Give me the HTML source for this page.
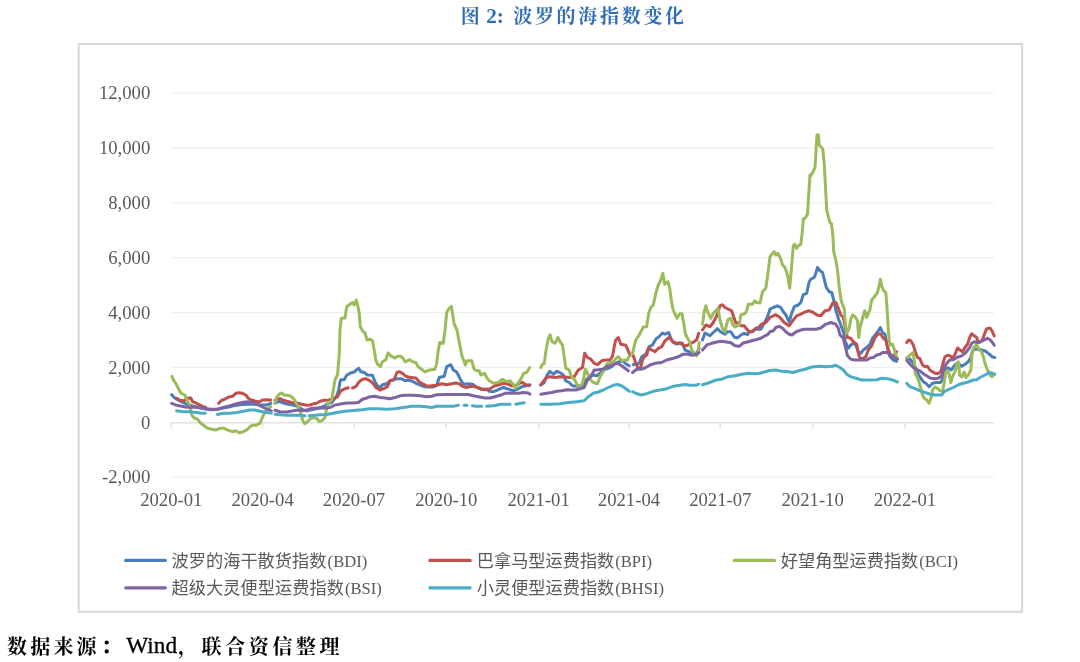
<!DOCTYPE html>
<html lang="zh">
<head>
<meta charset="utf-8">
<title>图 2：波罗的海指数变化</title>
<style>
html,body{margin:0;padding:0;background:#fff;}
body{width:1080px;height:662px;overflow:hidden;position:relative;font-family:"Liberation Serif",serif;}
</style>
</head>
<body>
<svg width="1080" height="662" viewBox="0 0 1080 662" style="position:absolute;left:0;top:0;display:block;will-change:transform">
<rect x="0" y="0" width="1080" height="662" fill="#ffffff"/>
<rect x="78.7" y="44.0" width="943.4" height="567.8" fill="#ffffff" stroke="#d9d9d9" stroke-width="2.1"/>
<line x1="171.3" y1="93.08" x2="994.2" y2="93.08" stroke="#f0f0f0" stroke-width="1.2"/>
<line x1="171.3" y1="147.95" x2="994.2" y2="147.95" stroke="#f0f0f0" stroke-width="1.2"/>
<line x1="171.3" y1="202.82" x2="994.2" y2="202.82" stroke="#f0f0f0" stroke-width="1.2"/>
<line x1="171.3" y1="257.69" x2="994.2" y2="257.69" stroke="#f0f0f0" stroke-width="1.2"/>
<line x1="171.3" y1="312.56" x2="994.2" y2="312.56" stroke="#f0f0f0" stroke-width="1.2"/>
<line x1="171.3" y1="367.43" x2="994.2" y2="367.43" stroke="#f0f0f0" stroke-width="1.2"/>
<line x1="171.3" y1="477.17" x2="994.2" y2="477.17" stroke="#f0f0f0" stroke-width="1.2"/>
<line x1="170.3" y1="422.70" x2="994.2" y2="422.70" stroke="#e2e2e2" stroke-width="1.6"/>
<line x1="171.30" y1="422.70" x2="171.30" y2="428.50" stroke="#e2e2e2" stroke-width="1.6"/>
<line x1="262.64" y1="422.70" x2="262.64" y2="428.50" stroke="#e2e2e2" stroke-width="1.6"/>
<line x1="353.97" y1="422.70" x2="353.97" y2="428.50" stroke="#e2e2e2" stroke-width="1.6"/>
<line x1="446.31" y1="422.70" x2="446.31" y2="428.50" stroke="#e2e2e2" stroke-width="1.6"/>
<line x1="538.65" y1="422.70" x2="538.65" y2="428.50" stroke="#e2e2e2" stroke-width="1.6"/>
<line x1="628.98" y1="422.70" x2="628.98" y2="428.50" stroke="#e2e2e2" stroke-width="1.6"/>
<line x1="720.32" y1="422.70" x2="720.32" y2="428.50" stroke="#e2e2e2" stroke-width="1.6"/>
<line x1="812.66" y1="422.70" x2="812.66" y2="428.50" stroke="#e2e2e2" stroke-width="1.6"/>
<line x1="905.00" y1="422.70" x2="905.00" y2="428.50" stroke="#e2e2e2" stroke-width="1.6"/>
<g font-family="'Liberation Serif', serif" font-size="18.7" fill="#595959">
<text x="150.3" y="99.38" text-anchor="end">12,000</text>
<text x="150.3" y="154.25" text-anchor="end">10,000</text>
<text x="150.3" y="209.12" text-anchor="end">8,000</text>
<text x="150.3" y="263.99" text-anchor="end">6,000</text>
<text x="150.3" y="318.86" text-anchor="end">4,000</text>
<text x="150.3" y="373.73" text-anchor="end">2,000</text>
<text x="150.3" y="428.60" text-anchor="end">0</text>
<text x="150.3" y="483.47" text-anchor="end">-2,000</text>
<text x="171.30" y="506.1" text-anchor="middle">2020-01</text>
<text x="262.64" y="506.1" text-anchor="middle">2020-04</text>
<text x="353.97" y="506.1" text-anchor="middle">2020-07</text>
<text x="446.31" y="506.1" text-anchor="middle">2020-10</text>
<text x="538.65" y="506.1" text-anchor="middle">2021-01</text>
<text x="628.98" y="506.1" text-anchor="middle">2021-04</text>
<text x="720.32" y="506.1" text-anchor="middle">2021-07</text>
<text x="812.66" y="506.1" text-anchor="middle">2021-10</text>
<text x="905.00" y="506.1" text-anchor="middle">2022-01</text>
</g>
<g fill="none" stroke-width="3" stroke-linejoin="round" stroke-linecap="round">
<path d="M171.7,394.7 174.2,397.5 176.7,399.2 181.7,402 186.7,404.2 193.3,406.3 200,408 206.7,409.2 211.7,409.7 217.5,409.2 223.3,408 230,406.7 233.3,405.8 240,404.7 246.7,404.2 253.3,404.2 260,405 266.7,405 270.8,403.3M275,403 279.2,401.3 283.3,403 288.3,404.2 293.3,405 298.3,406.7 303.3,410 306.7,410.8 311.7,409.7 318.3,408.3 325,405.8 326.7,404.2 331.7,402.5 336.7,395.8 338.7,390 340,381.7 340.8,379.7 344.2,379.7 346.7,375.3 350,373.3 354.2,372 357.5,369.2 358.7,368.3 360.8,371.7 364.2,372.5 367.5,375 372.5,375.3 375,381.7 377.5,385.8 380,387.5 382.5,384.7 386.7,383.7 390,380.8 393.3,380 396.7,378.7 401.7,378.7 405,380.8 408.3,380 412.5,381.3 416.7,383.7 420.8,385.3 424.2,386.7 428.3,387 433.3,387 436.7,385.3 439.2,377.5 444.2,376.3 446.7,366.7 450.8,364.7 453.3,370 456.7,372 460,378.7 463.3,384.2 467.5,383.7 472.5,384.2 476.7,387.5 481.7,388.8 486.7,389.2 489.2,391.3 493.3,391.7 496.7,390.3 499.2,389.2 503.3,387.5 508.3,389.2 513.3,390.8 517.5,389.2 521.7,386.7 525.8,385.8 530,384.7M540.8,385 544.2,382.5 546.7,375.8 549.7,371.3 553.3,374.2 557,371.3 560.8,373 563.3,375 565.8,380.8 569.2,382.5 572.5,385.8 576.7,386.3 580,385.8 583.3,385 586.7,379.2 590,375.8 593.3,375 596.7,375.8 600,373.3 603.3,370 608.3,368.3 611.7,366.7 615,363.7 618.3,362 622.5,360.8 625.8,363.7 629.2,365.8M633.3,364.7 635,364.2 639.2,363.3 641.7,356.7 645.8,354.2 649.2,346.7 652.5,345 655.8,339.2 660,335.8 662.5,333 665,334.2 668.7,332.5 670.8,338.3 673.3,342.5 676.7,344.2 680,343 682.5,343.3 685,350 688.3,351.3 692.5,354.2 696.7,353 699.2,348.3M702.5,340 705,333 710,335.8 713.3,332.5 717.5,328.7 720.8,332 725,334.2 727.5,331.7 730.8,331.7 734.2,337 737.5,338 740.8,335 744.2,333.3 747.5,334.7 749.2,331.7 751.7,331.3 755.8,329.2 756.7,329.2 760.8,329.2 764.2,323.3 767.5,316.7 770,309.2 773.3,307.5 777.5,305.8 780.8,307.5 783.3,311.7 785.8,315 789.2,321.7 791.7,313.3 794.2,306.7 798.3,305 800.8,302.5 803.3,294.7 806.7,293.3 809.2,281.7 810.8,279.2 814.2,277.5 815.8,273.3 817.5,267.5 820,270.8 822.5,272.5 824.2,279.2 826.3,287.5 829.2,291.7 831.7,292.5 833.3,298.3 835.8,310 838.3,318.3 840.8,325 843.3,331.7 845.3,341.7 848.3,348.3 850.8,345 853.3,343.3 855.8,345 858.3,351.7 860.8,353.3 863.3,350 866.7,347.5 870,344.2 872.5,338.3 875.8,334.2 878.3,330.8 880.3,327.5 882.5,332.5 885,334.2 886.7,343.3 888.3,351.7 890,356.7 893.3,360 896.7,361.3M906.7,358 910,359.2 913.3,363.3 915.8,368.3 918.3,374.2 920.8,378.3 923.3,381.7 925.8,383.3 929.2,386.7 932.5,383.3 936.7,382.5 940.8,382.5 944.2,375 945.8,368.3 948.3,368 951.3,370 954.2,365.8 956.7,363.3 959.2,364.2 961.7,366.3 965,364.2 968.3,361.7 970.8,357.5 972.5,350.8 975,349.2 978.3,349.2 981.7,350 985.8,351.3 989.2,354.2 992.5,357 994.7,357.5" stroke="#4a7ebb"/>
<path d="M176.7,398.3 180,400.3 184.2,400.8 187.5,398.3 190.8,398 192.5,401.7 195.8,403 199.2,404.7 202.5,406.3 205.8,407.5M218.7,403.3 221.7,400.3 224.2,399.5 226.7,398 230,396.7 232.5,396.3 235.8,393.3 239.2,392.8 242.5,393.3 245.8,395 248.3,398.3 251.7,400 255.8,401.3 259.2,402 262.5,400 266.7,399.7 270.8,400M275,400.3 276.7,399.2 280,398.7 283.3,400.3 286.7,401.3 291.7,402.5 296.7,403 301.7,404.2 306.7,405.3 310,405 313.3,403.8 316.7,403.3 320,401.3 324.2,400.3 328.3,400 333.3,399.2 337.5,396.7 340.8,390.8 345,388.7 348.3,387.8M352.5,388 355.8,386.7 359.2,381.7 362.5,379.2 365.8,378.7 370,380.8 373.3,383.7 375.8,387.5 380,390 384.2,388.3 387.5,386.7 390,380.8 394.2,379.2 397,372.5 399.2,371.7 402.5,373.3 405,375.8 408.3,377 411.7,377.5 415.8,378 419.2,381.7 423.3,384.2 427.5,386.3 431.7,385.8 436.7,385.3 441.7,383.7 446.7,384.7 451.7,383.7 455.8,383 459.2,383.7 462.5,386.3 466.7,387.5 470.8,386.3 475.8,386.7 480.8,389.2 485,389.7 490,388.7 495,385.8 500.8,384.2 504.2,383 508.3,384.2 511.7,385.8 515,385.8 518.3,384.2 521.7,382 525.8,384.7 529.2,385.8M540.8,384.7 544.2,380.3 546.7,377.5 550,376.7 555,377.5 560,376.7 565,377 570,377.5 574.2,376.7 578.3,370 582.5,367.5 584.7,353.3 587.5,357.5 590.8,359.2 594.2,363.3 597.5,364.7 601.7,360.8 605.8,360 610,360 612.5,356.3 614.2,346.7 615.8,340 618.3,337.5 620.8,344.2 625.8,345.3 628.3,350.8 630,355.8M633.3,355.8 635.8,363.3 638.3,368.3 640.8,367.5 642.5,360 644.2,356.7 646.7,355 648.7,348 651.7,350 655,351.7 658.3,348.3 661.7,346.7 665,340.8 669.2,337.5 672.5,341.3 676.7,343.3 680,343 683.3,345.3 686.7,345.8 690.8,343.3 694.2,341.7 696.7,339.7 698.7,333.3M702.5,330 705.8,325 710,326.7 713.3,322.5 716.7,315.8 720,305.8 722.5,304.7 725,307.5 728.3,309.2 731.7,310.8 733.3,315.8 735.8,323 738.3,323 740.8,325.8 744.2,325.8 747.5,330 750,332 752.5,331.7 755.8,328.3 758.3,327.5 761.7,324.2 765.8,322.5 770,317.5 775.8,314.7 780,317.5 784.2,322.5 789.2,325.8 793.3,320 796.7,315.8 800.8,314.2 805,312 809.2,310.8 813.3,312.5 817.5,315.3 820.8,315.8 825,310.8 829.2,310 832.5,303.3 835.8,302.5 838.3,308.3 840.8,315 843.3,317.5 845.8,330 847.5,337.5 850.8,338.3 853.3,341.7 856.7,344.2 858.3,353.3 860,358.7 863.3,358.3 865.8,356.7 868.3,350 871.7,345.8 875,337.5 878.3,333.7 880.8,334.2 883.3,338.3 885.8,340 887.5,346.7 890,354.2 892.5,356.7 895,354.2 896.7,351.7M906.7,342.5 908.7,340 910.8,340.8 913.3,345 915.3,351.7 917.5,357.5 920,358.7 922.5,365 925,366.7 927.5,366.3 930,370.3 932.5,371.7 935,373.3 937.5,373.7 940.8,371.7 943,363.3 945,356.7 947.5,355.3 950,355.8 952.5,358.3 955,354.2 957.5,348 960,350 962.5,351.7 965,347.5 967.5,344.2 970,336.7 971.7,333.7 974.2,335.8 976.7,337.5 978.3,342.5 980,342 982.5,339.7 984.7,333.3 986.7,328.7 990,328 992,330.8 994.2,335.8" stroke="#c0504d"/>
<path d="M172,376.3 173.3,380 175.8,383.3 178.3,388.3 180.8,393 184.7,395 186.7,399.2 189.2,404.2 190.8,410 191.7,415 194.2,418 197.5,419.2 200,422.5 204.2,425.8 207.5,428.3 211.7,429.2 215.8,430 220,428.3 224.2,428.3 228.3,430.3 232.5,431.7 235.8,430.8 239.2,432.8 243.3,431.7 246.7,430 250,426.7 253.3,425 255.8,425.3 260,423.3 262,418.3 264.2,413.3 266.7,410 269.2,408 270.8,406.7M275,403.3 276.7,397.5 279.2,394.2 281.7,393 284.2,395 286.7,395.3 290,395.8 293.3,398.3 295.8,402.5 298.3,406.7 300.8,413.3 302.5,420 304.7,423.7 307.5,421.7 310.8,418.3 314.2,417.5 317.5,419.2 319.2,421.7 322.5,420.3 325,417.5 326.7,408.3 328.3,403.3 331.7,400 333.3,390 335,380 337.5,375 339.2,355 340,330 341.3,318.3 345,318 346.7,306.7 350,304.2 352.5,302.5 354.2,305 356.3,300 358,306.7 359.2,313.3 360.3,326.7 362.5,330.8 365,333 367,340 370,339.2 372.5,340.8 374.2,350 375.8,360 377.5,364.2 380.3,366.7 382.5,361.7 385.8,359.7 388,353 390.8,355.8 395,358 397.5,356.3 400.8,356.3 403.3,358.7 405.3,362 409.7,359.7 412.5,361.7 415.8,362.5 418.3,367 421.7,369.2 424.7,372 428.3,370.3 435,369.2 436.7,363.3 438.3,350 439.7,342.5 443.3,343.3 445,330 446.7,312.5 449.2,308.3 451.3,306.3 452.5,313.3 454.2,324.2 457,330 459.2,341.7 461.7,355 464.2,361.7 465.3,365 467,360.8 471.7,360.8 474.2,369.2 476.7,370.8 479.2,370.8 480.8,375 484.7,373.3 486.7,377.5 489.2,380.8 493.3,383.3 496.7,382.8 498.3,382.5 502.5,379.2 506.7,381.7 510,380.8 513.3,384.2 515.3,388.3 517.5,384.2 520.8,379.2 523.7,373.3 526.7,372.5 529.7,367.5M540.8,367.5 542.5,364.2 544.2,363.7 545.8,351.7 548.3,338.3 550,334.7 552,341.7 555,343.3 558,337.5 560,341.7 562.5,345 564.2,356.7 565.8,368.3 569.2,370 571.3,376.7 574.2,379.2 577.5,385 580,386.7 582.5,383.3 584.2,375 585.3,369.2 587.5,373.3 590,379.2 593.3,382.5 597.5,383.7 600,376.7 603.3,371.7 606.7,364.2 610,362.5 613.3,361.7 615.8,358.7 618.3,356.7 621.7,360.8 625,360 627.5,360 629.2,355.8M632.5,353.3 635.8,340 639.2,335 641.7,330 643.3,327 646.7,326.7 648.7,313.3 650.8,307.5 653.3,305 655.8,293.3 658.3,285 660.8,280 662.8,273.3 664.7,284.2 668,281.7 669.7,288.3 671.3,300 673,309.2 675,314.2 677,318.3 679.7,313.7 682,313.7 683.7,323.3 685.3,333.3 687.5,338.3 689.7,341.7 691.7,350 694.2,353.3 696.7,355.8 698.3,350 699.2,342.5M702.5,324.2 704.2,311.7 705.8,305.8 707.5,311.7 710.8,318.3 713.3,313.3 715.8,310.8 718,308.3 720,320 722.5,328.3 725,331.7 726.7,324.2 728.3,319.2 730.8,318.3 732.5,324.2 735,327 739.2,325 740.8,315 745,313.3 746.7,310.8 748.3,304.2 752.5,304.2 754.7,300.8 756.7,302.5 760,303 762.5,291.7 765.8,288.3 767.5,276.7 770,256.7 772.5,253.3 774.2,251.7 775.8,255 778,253.3 780.8,259.2 782.5,265 785,267.5 787.5,275 789.7,288 791.3,270 793.3,245.8 794.7,244.2 796.7,248.3 798.3,245.8 800.8,244.2 802.5,230 803.3,219.2 805,218.3 807.5,214.2 808.7,195 810,175 810.8,175.8 813,171.7 815,167.5 816.3,146.7 817,135 818.3,134.7 819.2,145 821.7,147.5 822.8,149.2 824.2,163.3 825.3,183.3 826.7,210 828.3,216.7 830,222.5 831.3,223.3 832.2,230 833,236.7 833.7,251.7 835.8,260 837.5,270 839.2,286.7 840.8,298.3 842.5,305 844.2,308.3 845,320 846.7,333.3 849.2,328.3 850.8,319.2 852.5,315 855,316.7 857.5,320.8 858.7,337.5 860,327.5 862.5,318.3 864.7,310.8 866.7,317.5 868.3,313.3 870,309.2 871.7,300 874.2,297 877.5,292.5 879.2,285 880.3,279.2 882,286.7 883.7,290.8 885.8,292.5 886.7,303.3 887.5,316.7 888.3,330 889.2,340 890,345 892.5,344.2 894.2,349.2 895.8,355 897.5,359.2M906.7,358.3 910,355 913,352.5 914.2,360 915.3,373.3 917,376.7 919.2,382.5 920.8,388.3 922.5,395 924.2,398.3 926.7,400 929.2,403.3 931.3,396.7 932.5,390 935,387 937.5,388.3 940,390.8 942.5,391.3 944.2,383.3 945.8,371.7 947.5,370.8 949.2,374.2 950.8,382.5 952.5,376.7 955,371.7 957,364.2 958.3,361.7 959.7,375 961.7,377 964.2,372 965.8,377.5 968.3,375 970.8,370 972,355 973.3,348.3 975.8,345.3 977.5,345.8 979.2,350 981.7,351.7 983.3,356.7 985,363.3 987.5,370 990,375 992,376.7 994.2,374.2" stroke="#9bbb59"/>
<path d="M171.7,403.3 176.7,405.3 181.7,406.3 186.7,407.2 193.3,407 200,407.5 206.7,408.7 211.7,409.2 217.5,409.2 223.3,407.5 230,405.8 236.7,403.8 243.3,402.2 248.3,401.7 253.3,402.5 258.3,405 263.3,407.5 268.3,409.7 271.3,410.8M275,410.3 280,411.7 286.7,412 293.3,410.8 298.3,410 303.3,410.8 306.7,410 311.7,408.3 318.3,408 325,408 330,407.5 335,405 336.7,404.7 341.7,403.7 346.7,403 353.3,403 358.3,402.5 362.5,399.2 366.7,398 370,396.7 375,396.3 380,397.5 385,398 390,398.7 395,397.5 400,395.8 405,395.3 413.3,395.3 420,395.8 426.7,396.7 431.7,396.3 436.7,394.7 445,394.5 453.3,394.5 461.7,394.5 468.3,394.5 473.3,395.8 478.3,396.7 485,398 490,398 495,396.7 500,395.3 505,393.3 513.3,393.3 518.3,393.3 523.3,392.5 528.3,393 530,394.2M540.8,394.2 546.7,393.3 551.7,392.5 556.7,391.3 561.7,390.8 566.7,389.7 571.7,390 575.8,390 580,388.7 584.2,387.5 587.5,380 590.8,376.7 594.2,370 598.3,369.7 602.5,369.2 606.7,366.7 611.7,365.3 615,363.7 618.3,363.7 621.7,365.8 625,368.3 628.3,370.8M632.5,372.5 636.7,369.3 641.7,369.2 645.8,367.5 650,365 655,363.3 661.7,362.5 666.7,360 673.3,358.3 678.3,356.7 683.3,354.2 687.5,354.2 692.5,355.3 696.7,354.2 699.2,352.5M702.5,350 706.7,345 711.7,343.3 716.7,342 721.7,341.3 726.7,342 730.8,342.8 735,345.8 739.2,346.3 743.3,343 748.3,341.7 753.3,340.3 755.8,339.7 760.8,338.3 765,335.8 767.5,334.7 770,331.7 773.3,330.8 775.8,327.5 779.2,326.3 782.5,328.3 785.8,331.7 789.2,334.2 792,335 795.8,332 800,330.3 804.2,329.2 810,329.2 815.8,329.2 820.8,328 825,324.7 830.8,322.5 835.8,324.2 838.3,328.3 840,335 843.3,338.3 845.8,348.3 847.5,355.8 850.8,359.2 855,360 860,360 866.7,360 870,358 873.3,357.5 876.7,355 880,354.2 882.5,352.5 886.7,352.5 890,354.2 893.3,356.7 897.5,359.2M906.7,360.3 910,364.2 913.3,367.5 916.7,369.7 920,370.8 923.3,373.7 926.7,375.8 930,378 934.2,378.7 938.3,378.3 941.7,375.8 944.2,367.5 946.7,363.3 950,359.7 953.3,359.7 956.7,357.5 961.7,355.8 965.8,352.5 969.2,348.3 971.7,343.3 974.2,341.7 977.5,342.5 980.8,341.7 984.2,340 987.5,338.3 990,339.7 992.5,342.5 994.2,345.3" stroke="#8064a2"/>
<path d="M176.7,410.8 183.3,411.7 190,411.7 196.7,412.5 201.7,413.3 205.3,413.3M217.5,414.5 223.3,413.3 230,413.3 236.7,412.5 243.3,411.3 250,410 255,410 260,411.3 266.7,412.5 271.3,413M275,414.2 280,414.7 286.7,415.3 293.3,415.3 300,415.3 305,415.8M309.2,415.8 315,415.3 320,414.7 326.7,414.5 333.3,413.3 336.7,412.5 345,411.3 353.3,410.5 361.7,409.7 370,408.7 378.3,408.7 386.7,409.2 395,408.8 403.3,407.5 411.7,406.2 420,406.2 426.7,406.7 431.7,407.5 436.7,406.3 445,406.2 453.3,406.2 458.3,405.3M464.2,405.3 467,405.3M472.5,405.8 475.8,406.2 481.7,406.2M486.7,406.2 493.3,405.8 496.7,405.2 497.5,404.7 501.7,404.2 510,404.2M515.8,404.2 520.8,403.3 524.2,402.8M540.8,404.2 550,404.2 560,403.7 568.3,402.5 576.7,401.7 584.2,400.8 588.3,396.7 593.3,393.3 598.3,392 603.3,390 608.3,387.5 613.3,385.3 617.5,384.5 621.7,385.8 625.8,388.7 629.2,391.3M632.5,391.7 635,393 640.8,395 646.7,393.7 653.3,391.3 660,390 666.7,388.7 673.3,386.3 680,385.3 685,384.5 690,385.3 695.8,385.3 698.7,384.2M702.5,384.7 708.3,383 715,380.3 721.7,379.2 728.3,376.7 735,375.8 741.7,374.2 748.3,373.3 755,373.7 760,373.3 765,371.7 770,370.5 775.8,370 781.7,371.2 788.3,371.7 793.3,372.5 798.3,370.8 805,369.2 811.7,367 820,366.3 826.7,366.7 832.5,366.3 835.8,365.3 840,367.5 843.3,370 846.7,374.2 850,376.3 855,378 861.7,380 868.3,380 876.7,379.7 881.7,378.3 887.5,378.7 891.7,379.7 897.5,382M906.7,383.3 910,386.7 915,388.7 920,390.8 925,392.5 930,394.2 935,395 941.7,395 944.2,391.7 948.3,389.7 953.3,387.5 958.3,384.7 963.3,383.3 968.3,382 973.3,380 976.7,379.7 980,377.5 985,375 989.2,372.5 992.5,373.3 994.7,374.2" stroke="#4bacc6"/>
</g>
<line x1="125.7" y1="560.4" x2="165.3" y2="560.4" stroke="#4a7ebb" stroke-width="3.2" stroke-linecap="round"/>
<line x1="429.9" y1="560.4" x2="470.1" y2="560.4" stroke="#c0504d" stroke-width="3.2" stroke-linecap="round"/>
<line x1="734.3" y1="560.4" x2="774.5" y2="560.4" stroke="#9bbb59" stroke-width="3.2" stroke-linecap="round"/>
<line x1="125.7" y1="587.8" x2="165.3" y2="587.8" stroke="#8064a2" stroke-width="3.2" stroke-linecap="round"/>
<line x1="429.9" y1="587.8" x2="470.1" y2="587.8" stroke="#4bacc6" stroke-width="3.2" stroke-linecap="round"/>
<g font-family="'Liberation Sans', 'Noto Sans CJK SC', sans-serif" font-size="17.2" fill="#595959">
<text x="171.5" y="566.8" textLength="155" lengthAdjust="spacing">波罗的海干散货指数</text>
<text x="476.8" y="566.8" textLength="137.5" lengthAdjust="spacing">巴拿马型运费指数</text>
<text x="780.8" y="566.8" textLength="137.5" lengthAdjust="spacing">好望角型运费指数</text>
<text x="171.5" y="594.2" textLength="172.5" lengthAdjust="spacing">超级大灵便型运费指数</text>
<text x="476.8" y="594.2" textLength="137.5" lengthAdjust="spacing">小灵便型运费指数</text>
</g>
<g font-family="'Liberation Serif', serif" font-size="16.6" fill="#595959">
<text x="327.62" y="566.80">(BDI)</text>
<text x="615.24" y="566.80">(BPI)</text>
<text x="919.24" y="566.80">(BCI)</text>
<text x="345.00" y="594.20">(BSI)</text>
<text x="615.24" y="594.20">(BHSI)</text>
</g>
<text x="460.8" y="23.2" font-family="'Liberation Serif', 'Noto Serif CJK SC', serif" font-weight="bold" font-size="19" fill="#2e6cb5">图</text>
<text x="513.2" y="23.2" font-family="'Liberation Serif', 'Noto Serif CJK SC', serif" font-weight="bold" font-size="19" letter-spacing="2.7" fill="#2e6cb5">波罗的海指数变化</text>
<text x="486.2" y="23.2" font-family="'Liberation Serif', serif" font-weight="bold" font-size="21.2" fill="#2e6cb5">2:</text>
<text x="7" y="653.6" font-family="'Liberation Serif', 'Noto Serif CJK SC', serif" font-weight="bold" font-size="20" letter-spacing="3.2" fill="#000">数据来源</text>
<text x="178" y="653.6" font-family="'Liberation Serif', 'Noto Serif CJK SC', serif" font-weight="bold" font-size="20" letter-spacing="3.6" fill="#000">，联合资信整理</text>
<circle cx="106.7" cy="642.5" r="2.1" fill="#000"/><circle cx="106.7" cy="651.4" r="2.1" fill="#000"/>
<text x="126.3" y="653.2" font-family="'Liberation Serif', serif" font-size="23.3" fill="#000" stroke="#000" stroke-width="0.3">Wind</text>
</svg>
</body>
</html>
